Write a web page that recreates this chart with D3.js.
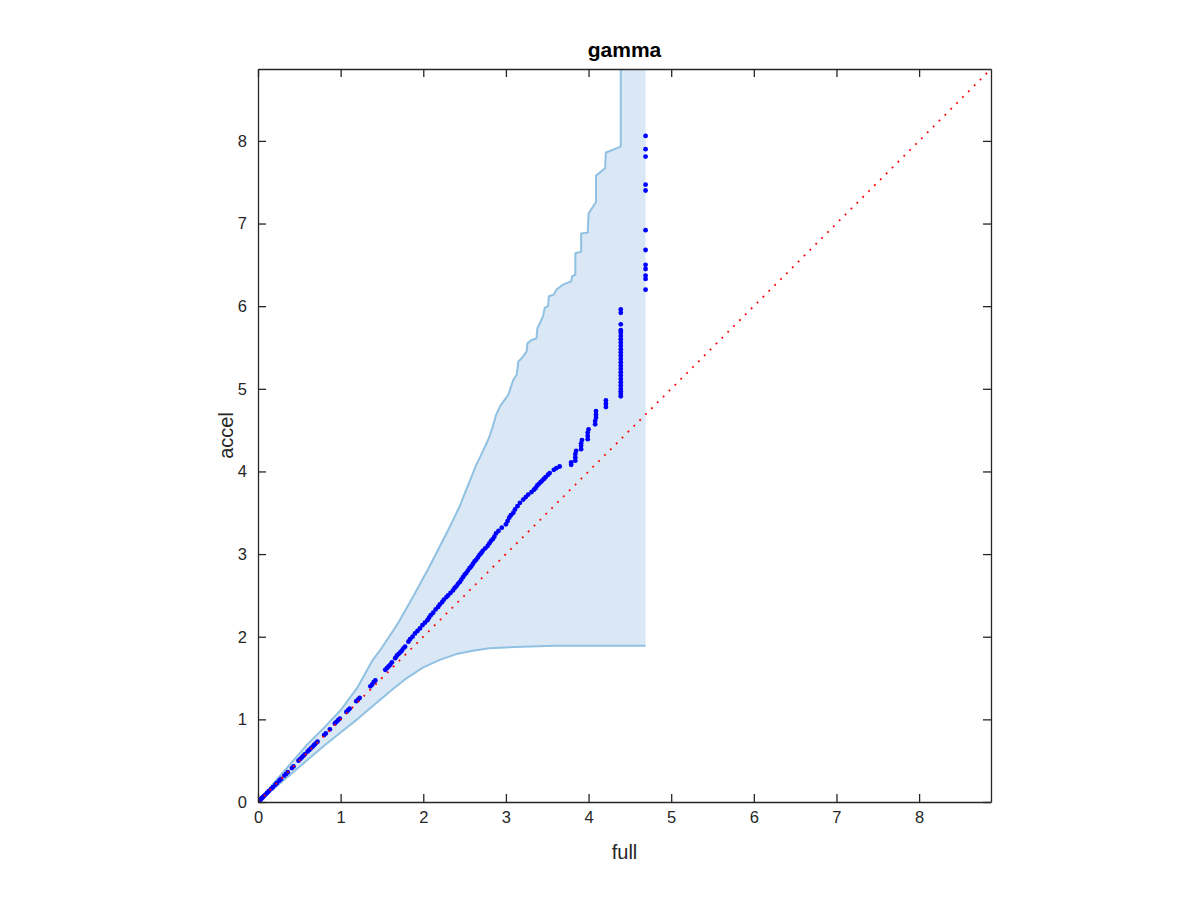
<!DOCTYPE html>
<html>
<head>
<meta charset="utf-8">
<script src="https://cdn.jsdelivr.net/npm/d3@7"></script>
<style>
  html, body { margin: 0; padding: 0; background: #fff; }
  svg { display: block; }
  text { font-family: "Liberation Sans", Arial, Helvetica, sans-serif; fill: #262626; }
</style>
</head>
<body>
<svg id="chart" width="1200" height="900"></svg>
<script>
// ---------------- data ----------------
const titleText = "gamma";
const xLabel = "full";
const yLabel = "accel";
const axisMax = 8.87;
const xTicks = [0, 1, 2, 3, 4, 5, 6, 7, 8];
const yTicks = [0, 1, 2, 3, 4, 5, 6, 7, 8];

// upper envelope of the band [full, accel]
const upperBand = [
  [0,0],[0.2,0.24],[0.4,0.47],[0.6,0.70],[0.8,0.90],[1.0,1.11],[1.2,1.38],
  [1.39,1.72],[1.48,1.84],[1.68,2.14],[1.88,2.49],[2.08,2.86],[2.28,3.25],
  [2.38,3.45],[2.45,3.60],[2.52,3.78],[2.57,3.90],[2.64,4.08],[2.69,4.18],
  [2.77,4.35],[2.80,4.42],[2.84,4.54],[2.88,4.68],[2.93,4.79],[3.03,4.93],
  [3.09,5.11],[3.13,5.17],[3.15,5.33],[3.19,5.37],[3.25,5.45],[3.26,5.55],
  [3.31,5.59],[3.37,5.61],[3.38,5.73],[3.41,5.79],[3.45,5.88],[3.47,5.98],
  [3.51,6.00],[3.52,6.12],[3.58,6.14],[3.61,6.20],[3.69,6.26],[3.79,6.30],
  [3.80,6.36],[3.84,6.38],[3.84,6.64],[3.91,6.66],[3.91,6.88],[3.99,6.89],
  [4.00,7.12],[4.09,7.26],[4.09,7.58],[4.20,7.67],[4.21,7.86],[4.39,7.93],
  [4.39,10]
];
// lower envelope of the band [full, accel]
const lowerBand = [
  [0,0],[0.2,0.17],[0.4,0.34],[0.6,0.51],[0.8,0.68],[1.0,0.84],[1.2,1.00],
  [1.4,1.17],[1.6,1.34],[1.8,1.50],[2.0,1.63],[2.2,1.72],[2.4,1.79],
  [2.6,1.83],[2.8,1.86],[3.0,1.87],[3.2,1.88],[3.6,1.89],[4.69,1.89]
];
const bandTop = 10;

// quantile points [full, accel]
const qqPoints = [
  [0.00,0.00],[0.01,0.01],[0.02,0.02],[0.03,0.03],[0.04,0.04],[0.05,0.05],
  [0.06,0.06],[0.07,0.07],[0.09,0.09],[0.11,0.11],[0.13,0.13],[0.16,0.16],
  [0.18,0.18],[0.21,0.21],[0.23,0.23],[0.26,0.26],[0.28,0.28],[0.32,0.32],
  [0.34,0.34],[0.36,0.36],[0.41,0.41],[0.43,0.43],[0.49,0.50],[0.51,0.52],
  [0.53,0.54],[0.55,0.56],[0.57,0.58],[0.60,0.61],[0.62,0.63],[0.64,0.65],
  [0.66,0.67],[0.68,0.69],[0.70,0.71],[0.72,0.73],[0.80,0.81],[0.82,0.83],
  [0.87,0.88],[0.93,0.95],[0.95,0.97],[0.97,0.99],[0.99,1.01],[1.07,1.09],
  [1.09,1.11],[1.11,1.13],[1.19,1.22],[1.21,1.24],[1.23,1.26],[1.36,1.40],
  [1.38,1.42],[1.40,1.45],[1.42,1.47],[1.54,1.60],[1.56,1.62],[1.58,1.64],
  [1.60,1.66],[1.62,1.69],[1.66,1.74],[1.68,1.77],[1.70,1.79],[1.72,1.81],
  [1.74,1.83],[1.76,1.86],[1.78,1.88],[1.82,1.94],[1.84,1.97],[1.87,2.00],
  [1.90,2.04],[1.93,2.07],[1.96,2.10],[1.99,2.14],[2.02,2.17],[2.05,2.20],
  [2.07,2.23],[2.09,2.26],[2.12,2.29],[2.15,2.33],[2.18,2.36],[2.20,2.39],
  [2.23,2.42],[2.25,2.45],[2.28,2.48],[2.30,2.50],[2.33,2.53],[2.36,2.56],
  [2.38,2.59],[2.40,2.61],[2.42,2.64],[2.44,2.66],[2.46,2.69],[2.48,2.72],
  [2.50,2.75],[2.52,2.77],[2.54,2.80],[2.56,2.83],[2.58,2.85],[2.60,2.88],
  [2.62,2.91],[2.64,2.93],[2.66,2.96],[2.68,2.99],[2.70,3.01],[2.72,3.04],
  [2.75,3.07],[2.78,3.10],[2.80,3.13],[2.82,3.16],[2.84,3.18],[2.86,3.21],
  [2.88,3.25],[2.91,3.28],[2.95,3.32],[3.00,3.36],[3.02,3.40],[3.04,3.44],
  [3.06,3.47],[3.09,3.50],[3.11,3.54],[3.14,3.58],[3.17,3.62],[3.21,3.66],
  [3.24,3.69],[3.27,3.72],[3.31,3.75],[3.34,3.78],[3.36,3.80],[3.38,3.83],
  [3.40,3.85],[3.42,3.87],[3.44,3.89],[3.46,3.91],[3.48,3.93],[3.51,3.96],
  [3.53,3.98],[3.58,4.02],[3.61,4.04],[3.65,4.06],[3.79,4.08],[3.79,4.11],
  [3.84,4.13],[3.84,4.17],[3.84,4.21],[3.85,4.25],[3.91,4.27],[3.91,4.31],
  [3.91,4.34],[3.92,4.38],[3.99,4.39],[3.99,4.43],[3.99,4.47],[4.00,4.51],
  [4.08,4.57],[4.08,4.61],[4.09,4.65],[4.09,4.69],[4.09,4.73],[4.21,4.78],
  [4.21,4.82],[4.21,4.86],
  [4.39,4.91],[4.39,4.94],[4.39,4.97],[4.39,5.00],[4.39,5.04],[4.39,5.08],
  [4.39,5.12],[4.39,5.16],[4.39,5.20],[4.39,5.24],[4.39,5.28],[4.39,5.32],
  [4.39,5.36],[4.39,5.40],[4.39,5.44],[4.39,5.48],[4.39,5.52],[4.39,5.56],
  [4.39,5.60],[4.39,5.64],[4.39,5.68],[4.39,5.71],[4.39,5.78],[4.39,5.92],
  [4.39,5.96],
  [4.69,6.20],[4.69,6.33],[4.69,6.37],[4.69,6.45],[4.69,6.50],[4.69,6.68],
  [4.69,6.92],[4.69,7.40],[4.69,7.47],[4.69,7.81],[4.69,7.90],[4.69,8.06]
];
const refLine = [[0,0],[axisMax,axisMax]];

// ---------------- drawing ----------------
const pLeft = 258, pRight = 991, pTop = 69, pBottom = 802;
const svg = d3.select("#chart");
const x = d3.scaleLinear().domain([0, axisMax]).range([pLeft, pRight]);
const y = d3.scaleLinear().domain([0, axisMax]).range([pBottom, pTop]);

svg.append("defs").append("clipPath").attr("id", "plotclip")
  .append("rect").attr("x", pLeft).attr("y", pTop)
  .attr("width", pRight - pLeft).attr("height", pBottom - pTop);

const plot = svg.append("g").attr("clip-path", "url(#plotclip)");

const lineGen = d3.line().x(d => x(d[0])).y(d => y(d[1]));

// band fill
const lastLower = lowerBand[lowerBand.length - 1];
const poly = lowerBand.concat([[lastLower[0], bandTop]])
  .concat(upperBand.slice().reverse());
plot.append("path")
  .attr("d", lineGen(poly) + "Z")
  .attr("fill", "#d9e8f4").attr("stroke", "none");

plot.append("path").attr("d", lineGen(upperBand))
  .attr("fill", "none").attr("stroke", "#90c1e2").attr("stroke-width", 2)
  .attr("stroke-linejoin", "round");
plot.append("path").attr("d", lineGen(lowerBand))
  .attr("fill", "none").attr("stroke", "#90c1e2").attr("stroke-width", 2)
  .attr("stroke-linejoin", "round");

// points
plot.append("g").selectAll("circle").data(qqPoints).join("circle")
  .attr("cx", d => x(d[0])).attr("cy", d => y(d[1])).attr("r", 2.4)
  .attr("fill", "#0000ff");

// reference dotted line
plot.append("path").attr("d", lineGen(refLine))
  .attr("fill", "none").attr("stroke", "#ff0000").attr("stroke-width", 1.8)
  .attr("stroke-dasharray", "1.8 6.5");

// axes (MATLAB-style box, inward ticks)
const axColor = "#262626";
const tickLen = 8;
const xAxisB = d3.axisBottom(x).tickValues(xTicks).tickSizeInner(-tickLen).tickSizeOuter(0).tickPadding(9).tickFormat(d3.format("d"));
const xAxisT = d3.axisTop(x).tickValues(xTicks).tickSizeInner(-tickLen).tickSizeOuter(0).tickFormat("");
const yAxisL = d3.axisLeft(y).tickValues(yTicks).tickSizeInner(-tickLen).tickSizeOuter(0).tickPadding(11).tickFormat(d3.format("d"));
const yAxisR = d3.axisRight(y).tickValues(yTicks).tickSizeInner(-tickLen).tickSizeOuter(0).tickFormat("");

function styleAxis(g) {
  g.select(".domain").attr("stroke", axColor).attr("stroke-width", 1.3);
  g.selectAll(".tick line").attr("stroke", axColor).attr("stroke-width", 1.3);
  g.selectAll(".tick text").attr("fill", axColor).style("font-size", "16.5px")
    .style("font-family", '"Liberation Sans", Arial, Helvetica, sans-serif');
}
svg.append("g").attr("transform", `translate(0,${pBottom})`).call(xAxisB).call(styleAxis);
svg.append("g").attr("transform", `translate(0,${pTop})`).call(xAxisT).call(styleAxis);
svg.append("g").attr("transform", `translate(${pLeft},0)`).call(yAxisL).call(styleAxis);
svg.append("g").attr("transform", `translate(${pRight},0)`).call(yAxisR).call(styleAxis);

// title and labels
svg.append("text").attr("x", (pLeft + pRight) / 2).attr("y", 57)
  .attr("text-anchor", "middle").style("font-size", "21px").style("font-weight", "bold")
  .style("fill", "#000").text(titleText);
svg.append("text").attr("x", (pLeft + pRight) / 2).attr("y", 859)
  .attr("text-anchor", "middle").style("font-size", "20px").text(xLabel);
svg.append("text").attr("transform", `translate(233,${(pTop + pBottom) / 2}) rotate(-90)`)
  .attr("text-anchor", "middle").style("font-size", "20px").text(yLabel);
</script>
</body>
</html>
